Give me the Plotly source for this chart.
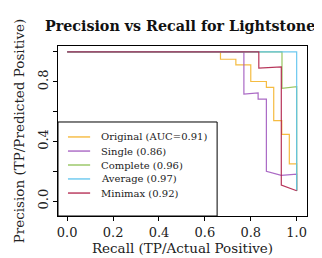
import plotly.graph_objects as go

# Data
orig_x = [0, 0.668, 0.668, 0.735, 0.735, 0.80, 0.80, 0.868, 0.868, 0.90, 0.90, 0.935, 0.935, 0.968, 0.968, 1.0, 1.0]
orig_y = [1, 1, 0.951, 0.951, 0.913, 0.913, 0.802, 0.802, 0.762, 0.762, 0.54, 0.54, 0.447, 0.447, 0.25, 0.25, 0.069]
single_x = [0, 0.77, 0.77, 0.832, 0.832, 0.868, 0.868, 0.933, 1.0, 1.0]
single_y = [1, 1, 0.718, 0.725, 0.684, 0.684, 0.2, 0.173, 0.18, 0.069]
complete_x = [0, 0.936, 0.936, 1.0, 1.0]
complete_y = [1, 1, 0.756, 0.767, 0.069]
average_x = [0, 1.0, 1.0]
average_y = [1, 1, 0.069]
minimax_x = [0, 0.835, 0.835, 0.933, 0.933, 1.0]
minimax_y = [1, 1, 0.891, 0.9, 0.107, 0.069]

names = ["Original (AUC=0.91)", "Single (0.86)", "Complete (0.96)", "Average (0.97)", "Minimax (0.92)"]
colors = ["#f5b52e", "#a25abf", "#8dc152", "#5cc3ee", "#b01f48"]
xs = [orig_x, single_x, complete_x, average_x, minimax_x]
ys = [orig_y, single_y, complete_y, average_y, minimax_y]

xticks = [0, 0.2, 0.4, 0.6, 0.8, 1.0]
xticklabels = ["0.0", "0.2", "0.4", "0.6", "0.8", "1.0"]
yticks = [0, 0.2, 0.4, 0.6, 0.8, 1.0]
yticklabels = ["0.0", "", "0.4", "", "0.8", ""]

FONT = "DejaVu Serif"
TXT = "#222"

fig = go.Figure()
for x, y, n, c in zip(xs, ys, names, colors):
    fig.add_trace(go.Scatter(x=x, y=y, mode="lines", name=n, showlegend=False,
                             line=dict(color=c, width=1.2), opacity=0.9))

axis_common = dict(showline=True, mirror=True, linecolor="black", linewidth=1,
                   ticks="outside", ticklen=4, tickcolor="black", showgrid=False,
                   zeroline=False, automargin=False,
                   tickfont=dict(family=FONT, size=13, color=TXT))

# page body has an 8px margin, so the figure is sized to fit the 322x258 window
fig.update_layout(
    width=314, height=250,
    margin=dict(l=50, r=15, t=38, b=42),
    paper_bgcolor="white", plot_bgcolor="white",
    title=dict(text="<b>Precision vs Recall for Lightstone</b>", x=0.548, xanchor="center",
               y=0.93, yanchor="middle", font=dict(family=FONT, size=14.3, color="#111")),
    xaxis=dict(range=[-0.04, 1.045], tickvals=xticks, ticktext=xticklabels,
               title=dict(text="Recall (TP/Actual Positive)", standoff=0,
                          font=dict(family=FONT, size=13.5, color=TXT)),
               **axis_common),
    yaxis=dict(range=[-0.1, 1.04], tickvals=yticks, ticktext=yticklabels, tickangle=-90,
               title=dict(text="Precision (TP/Predicted Positive)", standoff=8,
                          font=dict(family=FONT, size=13.5, color=TXT)),
               **axis_common),
    showlegend=False,
)

# Legend drawn manually (box, sample lines, labels) in plot-area coordinates
leg_right, leg_top = 0.639, 0.553
fig.add_shape(type="rect", xref="paper", yref="paper", x0=0, x1=leg_right, y0=0, y1=leg_top,
              line=dict(color="black", width=1), fillcolor="white", layer="above")
row_y = [0.465, 0.382, 0.300, 0.218, 0.135]
for n, c, ry in zip(names, colors, row_y):
    fig.add_shape(type="line", xref="paper", yref="paper", x0=0.040, x1=0.129, y0=ry, y1=ry,
                  line=dict(color=c, width=1.5), opacity=0.85, layer="above")
    fig.add_annotation(xref="paper", yref="paper", x=0.165, y=ry, text=n, showarrow=False,
                       xanchor="left", yanchor="middle",
                       font=dict(family=FONT, size=10, color=TXT))

fig.write_html("out.html")
